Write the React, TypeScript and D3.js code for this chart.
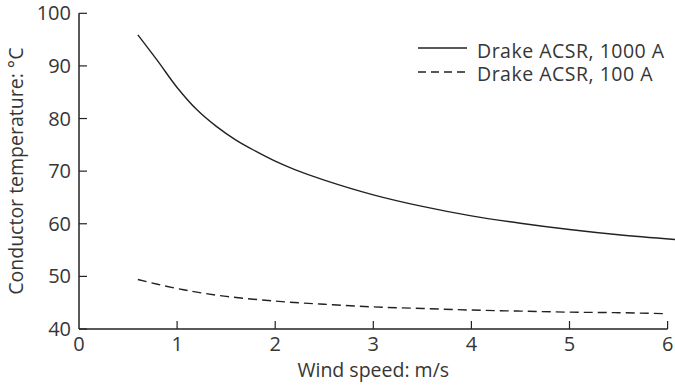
import React from "react";
import * as d3 from "d3";

const windHigh = [0.6, 0.8, 1.0, 1.2, 1.4, 1.6, 1.8, 2.0, 2.2, 2.5, 3.0, 3.5, 4.0, 4.5, 5.0, 5.5, 6.08];
const tempHigh = [95.9, 91.0, 85.9, 81.7, 78.5, 75.9, 73.8, 71.9, 70.3, 68.3, 65.5, 63.3, 61.5, 60.1, 58.9, 57.9, 57.0];
const windLow = [0.6, 0.8, 1.0, 1.2, 1.5, 2.0, 2.5, 3.0, 3.5, 4.0, 4.5, 5.0, 5.5, 6.0];
const tempLow = [49.4, 48.5, 47.7, 47.0, 46.2, 45.3, 44.7, 44.2, 43.9, 43.6, 43.4, 43.2, 43.1, 42.9];
const xTicks = [0, 1, 2, 3, 4, 5, 6];
const yTicks = [40, 50, 60, 70, 80, 90, 100];
const seriesLabels = ["Drake ACSR, 1000 A", "Drake ACSR, 100 A"];

const W = 675;
const H = 389;
const FONT = "'Open Sans', sans-serif";
const TEXT = "#363636";
const LINE = "#222";

export default function App() {
  const x = d3.scaleLinear().domain([0, 6]).range([79, 667.6]);
  const y = d3.scaleLinear().domain([40, 100]).range([329, 13.3]);
  const line = d3
    .line<[number, number]>()
    .x((d) => x(d[0]))
    .y((d) => y(d[1]))
    .curve(d3.curveCatmullRom.alpha(0.5));
  const high = windHigh.map((w, i) => [w, tempHigh[i]] as [number, number]);
  const low = windLow.map((w, i) => [w, tempLow[i]] as [number, number]);
  const x0 = x(0);
  const y0 = y(40);
  return (
    <svg
      width={W}
      height={H}
      style={{ position: "absolute", left: 0, top: 0, background: "#fff" }}
      fontFamily={FONT}
    >
      {/* axes */}
      <line x1={x0} x2={x0} y1={y(100)} y2={y0} stroke={LINE} strokeWidth={1.5} />
      <line x1={x0} x2={x(6)} y1={y0} y2={y0} stroke={LINE} strokeWidth={1.5} />
      {yTicks.map((t) => (
        <g key={"y" + t}>
          <line x1={x0} x2={x0 + 8} y1={y(t)} y2={y(t)} stroke={LINE} strokeWidth={1.2} />
          <text x={x0 - 8} y={y(t)} dy="0.35em" textAnchor="end" fontSize={20} fill={TEXT}>
            {t}
          </text>
        </g>
      ))}
      {xTicks.map((t) => (
        <g key={"x" + t}>
          {t > 0 && <line x1={x(t)} x2={x(t)} y1={y0} y2={y0 - 8} stroke={LINE} strokeWidth={1.2} />}
          <text x={x(t)} y={351} textAnchor="middle" fontSize={20} fill={TEXT}>
            {t}
          </text>
        </g>
      ))}
      <text x={x(3)} y={377} textAnchor="middle" fontSize={19.5} fill={TEXT}>
        Wind speed: m/s
      </text>
      <text
        transform={`translate(23, ${(y(100) + y0) / 2}) rotate(-90)`}
        textAnchor="middle"
        fontSize={19.5}
        fill={TEXT}
      >
        Conductor temperature: °C
      </text>
      {/* series */}
      <path d={line(high) || ""} fill="none" stroke={LINE} strokeWidth={1.4} />
      <path d={line(low) || ""} fill="none" stroke={LINE} strokeWidth={1.4} strokeDasharray="9,5" />
      {/* legend */}
      <line x1={418} x2={467} y1={48} y2={48} stroke={LINE} strokeWidth={1.3} />
      <text x={477} y={58} fontSize={19.5} letterSpacing={0.5} fill={TEXT}>
        {seriesLabels[0]}
      </text>
      <line x1={418} x2={467} y1={72} y2={72} stroke={LINE} strokeWidth={1.3} strokeDasharray="8,5" />
      <text x={477} y={80.5} fontSize={19.5} letterSpacing={0.5} fill={TEXT}>
        {seriesLabels[1]}
      </text>
    </svg>
  );
}
